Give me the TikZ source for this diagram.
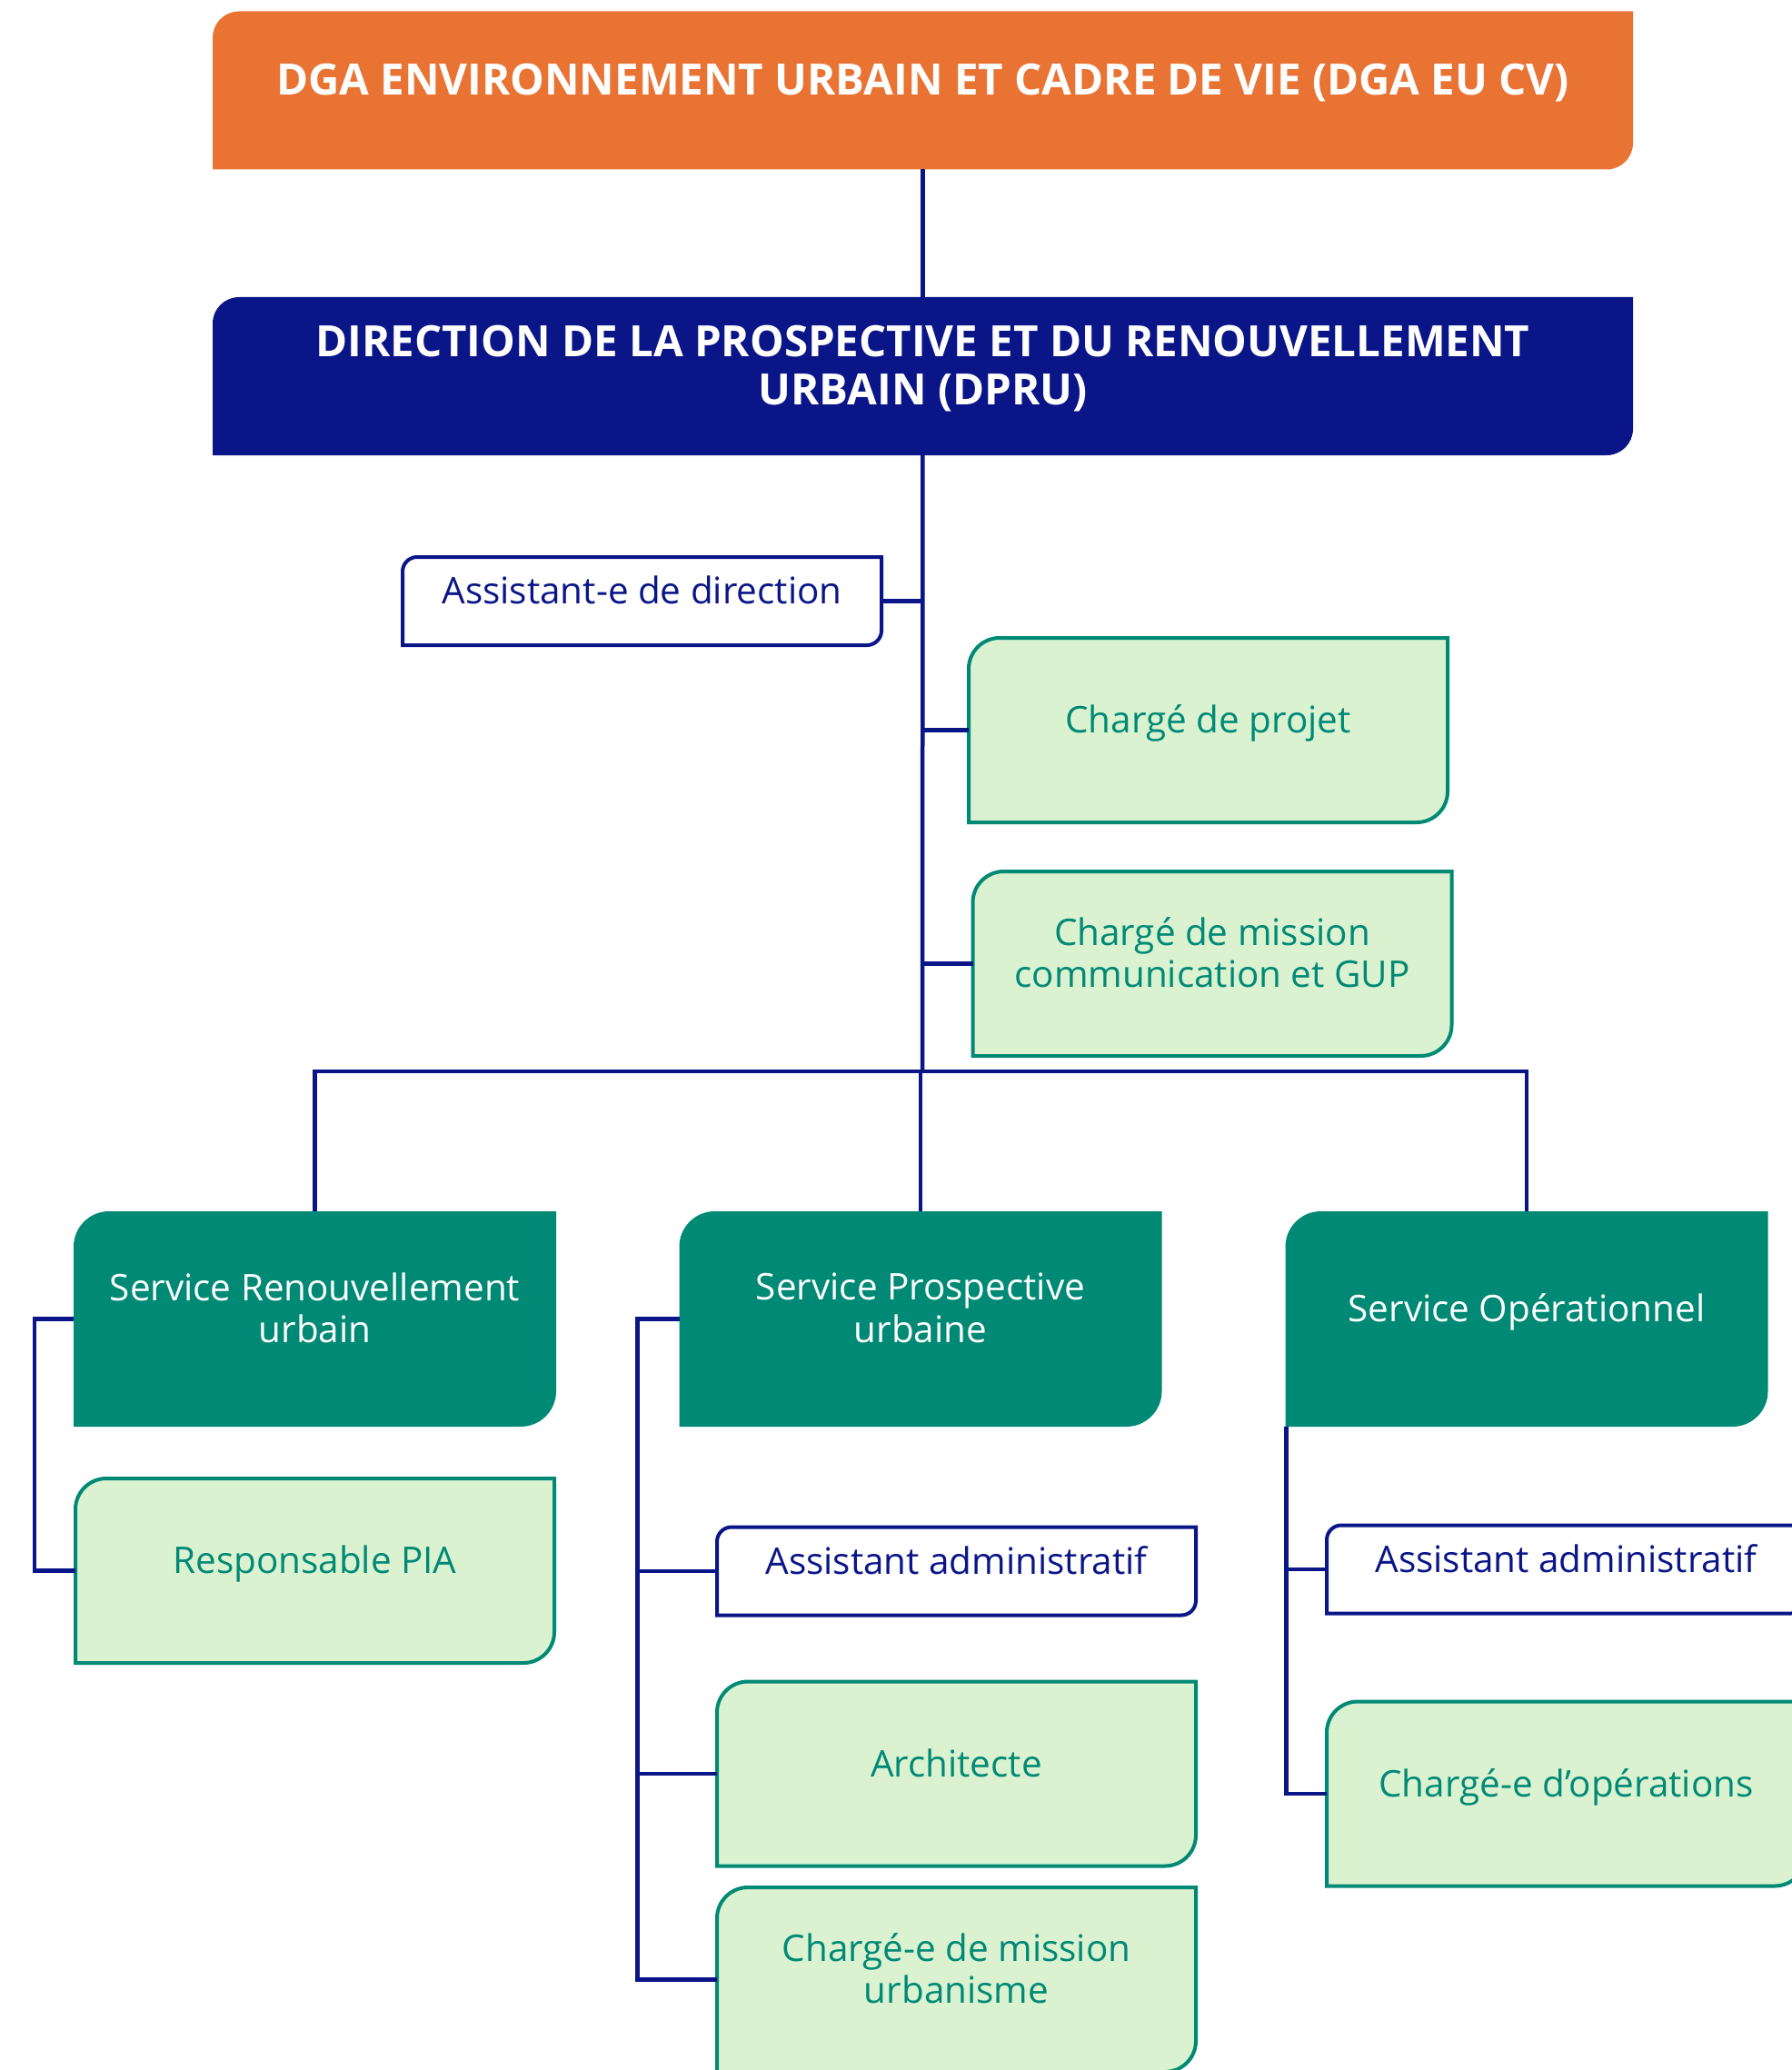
\documentclass[tikz,border=0pt]{standalone}
\usepackage{fontspec}
\setmainfont{Open Sans}
\usepackage{tikz}
\usetikzlibrary{backgrounds}
\definecolor{dgaorange}{RGB}{233,115,51}
\definecolor{dprunavy}{RGB}{10,22,136}
\definecolor{serviceteal}{RGB}{0,137,117}
\definecolor{postgreen}{RGB}{218,242,208}
\tikzstyle{box}=[rectangle,outer sep=0pt,inner sep=2pt,align=center,text depth=7pt,font=\fontsize{11.5}{13.2}\selectfont]
\tikzstyle{headbox}=[box,minimum width=15.63cm,minimum height=1.74cm,text=white,font=\bfseries\fontsize{13.5}{15.2}\selectfont]
\tikzstyle{servicebox}=[box,minimum width=5.31cm,minimum height=2.37cm,text=white]
\tikzstyle{postbox}=[box,minimum width=5.27cm,minimum height=2.03cm,text=serviceteal]
\tikzstyle{assistbox}=[box,minimum width=5.27cm,minimum height=0.97cm,text=dprunavy]
\tikzstyle{link}=[draw=dprunavy,line width=0.045cm]
\tikzstyle{postshape}=[fill=postgreen,draw=serviceteal,line width=0.04cm]
\tikzstyle{assistshape}=[fill=white,draw=dprunavy,line width=0.04cm]
\newcommand{\diagshape}[3]{%
  \path[#1] ([yshift=-#3]#2.north west) arc[start angle=180,end angle=90,radius=#3]
    -- (#2.north east) -- ([yshift=#3]#2.south east)
    arc[start angle=0,end angle=-90,radius=#3] -- (#2.south west) -- cycle;}

\begin{document}
\begin{tikzpicture}
\useasboundingbox (0,0) rectangle (19.71,-22.78);
\clip (0,0) rectangle (19.71,-22.78);

\node [headbox] (dga) at (10.155,-0.995) {DGA ENVIRONNEMENT URBAIN ET CADRE DE VIE (DGA EU CV)};
\node [headbox] (dpru) at (10.155,-4.14) {DIRECTION DE LA PROSPECTIVE ET DU RENOUVELLEMENT\\URBAIN (DPRU)};

\node [assistbox] (asdir) at (7.065,-6.615) {Assistant-e de direction};
\node [postbox] (cdprojet) at (13.295,-8.035) {Chargé de projet};
\node [postbox] (cdmcom) at (13.34,-10.605) {Chargé de mission\\communication et GUP};

\node [servicebox] (sru) at (3.465,-14.515) {Service Renouvellement\\urbain};
\node [servicebox] (spu) at (10.13,-14.515) {Service Prospective\\urbaine};
\node [servicebox] (so) at (16.80,-14.515) {Service Opérationnel};

\node [postbox] (pia) at (3.465,-17.285) {Responsable PIA};

\node [assistbox] (aaspu) at (10.525,-17.29) {Assistant administratif};
\node [postbox] (archi) at (10.525,-19.52) {Architecte};
\node [postbox] (cdmurba) at (10.525,-21.785) {Chargé-e de mission\\urbanisme};

\node [assistbox] (aaso) at (17.235,-17.27) {Assistant administratif};
\node [postbox] (cdop) at (17.235,-19.74) {Chargé-e d’opérations};

\coordinate (bus) at (10.15,-11.79);

\begin{pgfonlayer}{background}
\diagshape{fill=dgaorange}{dga}{0.29cm}
\diagshape{fill=dprunavy}{dpru}{0.29cm}
\diagshape{assistshape}{asdir}{0.16cm}
\diagshape{postshape}{cdprojet}{0.34cm}
\diagshape{postshape}{cdmcom}{0.34cm}
\diagshape{fill=serviceteal}{sru}{0.39cm}
\diagshape{fill=serviceteal}{spu}{0.39cm}
\diagshape{fill=serviceteal}{so}{0.39cm}
\diagshape{postshape}{pia}{0.34cm}
\diagshape{assistshape}{aaspu}{0.16cm}
\diagshape{postshape}{archi}{0.34cm}
\diagshape{postshape}{cdmurba}{0.34cm}
\diagshape{assistshape}{aaso}{0.16cm}
\diagshape{postshape}{cdop}{0.34cm}
\end{pgfonlayer}

\draw [link] (dga) -- (dpru);
\draw [link] (dpru) -- (bus);
\draw [link] (asdir.east) -- (asdir.east -| bus);
\draw [link] (cdprojet.west) -- (cdprojet.west -| bus);
\draw [link] (cdmcom.west) -- (cdmcom.west -| bus);
\draw [link] (sru.north) -- (sru.north |- bus) -- (so.north |- bus) -- (so.north);
\draw [link] (spu.north |- bus) -- (spu.north);

\draw [link] (sru.west) -- ++(-0.43,0) |- (pia.west);
\draw [link] (spu.west) -- ++(-0.46,0) coordinate (spuk) |- (cdmurba.west);
\draw [link] (aaspu.west) -- (aaspu.west -| spuk);
\draw [link] (archi.west) -- (archi.west -| spuk);
\draw [link] ([xshift=0.01cm]so.south west) |- (cdop.west);
\draw [link] (aaso.west) -- (aaso.west -| so.south west);
\end{tikzpicture}
\end{document}
